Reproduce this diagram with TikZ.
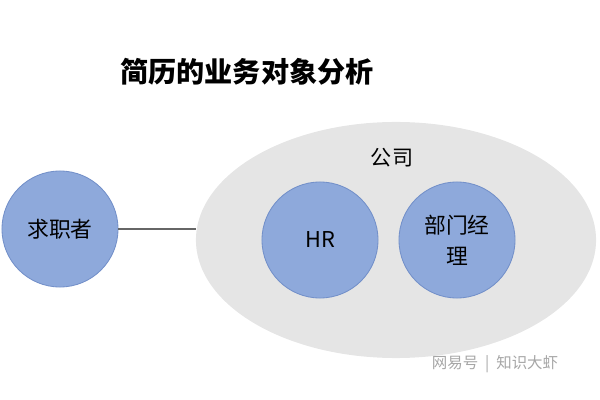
\documentclass[tikz,border=0pt]{standalone}
\usepackage{fontspec}
\setmainfont{Noto Sans CJK SC}
\usetikzlibrary{shapes.geometric}
\definecolor{roleblue}{HTML}{8EA9DB}
\definecolor{roleedge}{HTML}{7390C9}
\definecolor{firmgray}{HTML}{E5E5E5}
\tikzset{
  role/.style={circle,draw=roleedge,fill=roleblue,line width=0.6pt,minimum size=2.9cm,inner sep=0pt,align=center,font=\fontsize{15.5}{22}\selectfont},
  firm/.style={ellipse,fill=firmgray,minimum width=10cm,minimum height=5.9cm}
}
\begin{document}
\begin{tikzpicture}[x=0.025cm,y=-0.025cm]
		\useasboundingbox (0,0) rectangle (600,400);
		%Title
		\node (title) at (247,72) {\fontsize{20}{22}\selectfont\bfseries 简历的业务对象分析};
		%Company
		\node[firm] (company) at (396,240) {};
		\node (companylabel) at (392,158) {\fontsize{15}{18}\selectfont 公司};
		\node[role] (hr) at (320,240) {HR};
		\node[role] (manager) at (457,240) {部门经\\理};
		%Applicant
		\node[role] (applicant) at (60,229) {求职者};
		\draw[gray!80!black,line width=1.5pt] (applicant) -- (company.west|-applicant);
		%Watermark
		\node[text=gray!70] (mark) at (495,364) {\fontsize{11}{13}\selectfont 网易号\ \ |\ \ 知识大虾};
\end{tikzpicture}
\end{document}
